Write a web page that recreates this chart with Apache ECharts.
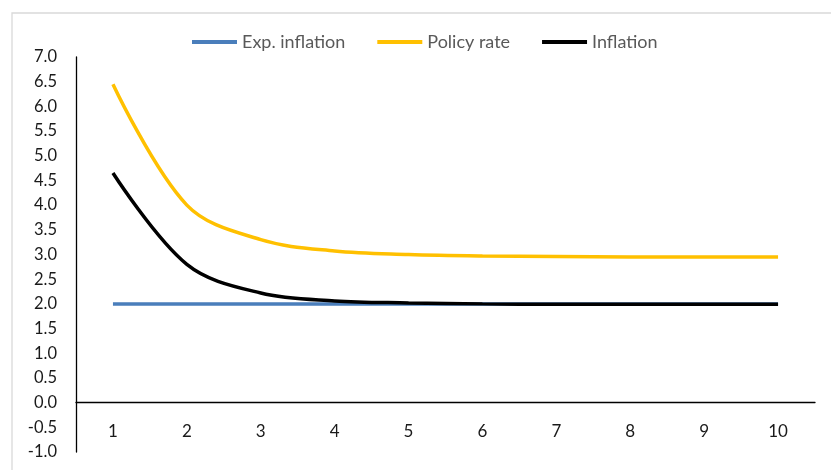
<!DOCTYPE html>
<html>
<head>
<meta charset="utf-8">
<script src="https://cdn.jsdelivr.net/npm/echarts@6/dist/echarts.min.js"></script>
<style>
  html, body { margin: 0; padding: 0; background: #ffffff; }
  #chart { width: 831px; height: 470px; }
</style>
</head>
<body>
<div id="chart"></div>
<script>
// Periods on the horizontal axis
const periods = ['1', '2', '3', '4', '5', '6', '7', '8', '9', '10'];

// Series values (percent)
const expInflation = [2.0, 2.0, 2.0, 2.0, 2.0, 2.0, 2.0, 2.0, 2.0, 2.0];
const policyRate   = [6.45, 4.0, 3.3, 3.07, 3.0, 2.97, 2.96, 2.95, 2.95, 2.95];
const inflation    = [4.65, 2.8, 2.22, 2.06, 2.02, 2.0, 1.99, 1.99, 1.99, 1.99];

// Value axis range
const yMin = -1.0;
const yMax = 7.0;
const yStep = 0.5;

const fontFamily = 'Lato, "Open Sans", sans-serif';

const chart = echarts.init(document.getElementById('chart'), null, { renderer: 'canvas' });

function lineSeries(name, data, color) {
  return {
    name: name,
    type: 'line',
    data: data,
    smooth: 0.35,
    showSymbol: false,
    symbol: 'none',
    lineStyle: { color: color, width: 3.5 },
    itemStyle: { color: color },
    emphasis: { disabled: true },
    z: 3
  };
}

chart.setOption({
  animation: false,
  backgroundColor: '#ffffff',
  graphic: [{
    type: 'rect',
    left: 9.5, top: 10.5,
    shape: { x: 0, y: 0, width: 840, height: 480 },
    style: { fill: 'none', stroke: '#d9d9d9', lineWidth: 1.3 },
    silent: true, z: -1
  }],
  legend: {
    left: 192,
    top: 33,
    padding: 0,
    itemWidth: 45,
    itemHeight: 4,
    itemGap: 32,
    icon: 'rect',
    textStyle: { color: '#595959', fontSize: 18, fontFamily: fontFamily },
    data: ['Exp. inflation', 'Policy rate', 'Inflation']
  },
  grid: { left: 76, right: 16, top: 57, bottom: 18, containLabel: false, outerBoundsMode: 'none' },
  xAxis: {
    type: 'category',
    data: periods,
    boundaryGap: true,
    axisLine: { show: true, onZero: true, lineStyle: { color: '#000000', width: 1.3 } },
    axisTick: { show: false },
    axisLabel: { margin: -29, color: '#1a1a1a', fontSize: 17, fontFamily: fontFamily },
    splitLine: { show: false }
  },
  yAxis: {
    type: 'value',
    min: yMin,
    max: yMax,
    interval: yStep,
    axisLine: { show: true, lineStyle: { color: '#000000', width: 1.3 } },
    axisTick: { show: false },
    splitLine: { show: false },
    axisLabel: {
      margin: 19,
      color: '#1a1a1a',
      fontSize: 16.5,
      fontFamily: fontFamily,
      formatter: v => v.toFixed(1)
    }
  },
  series: [
    lineSeries('Exp. inflation', expInflation, '#4a7ebb'),
    lineSeries('Policy rate', policyRate, '#ffc000'),
    lineSeries('Inflation', inflation, '#000000')
  ]
});
</script>
</body>
</html>
